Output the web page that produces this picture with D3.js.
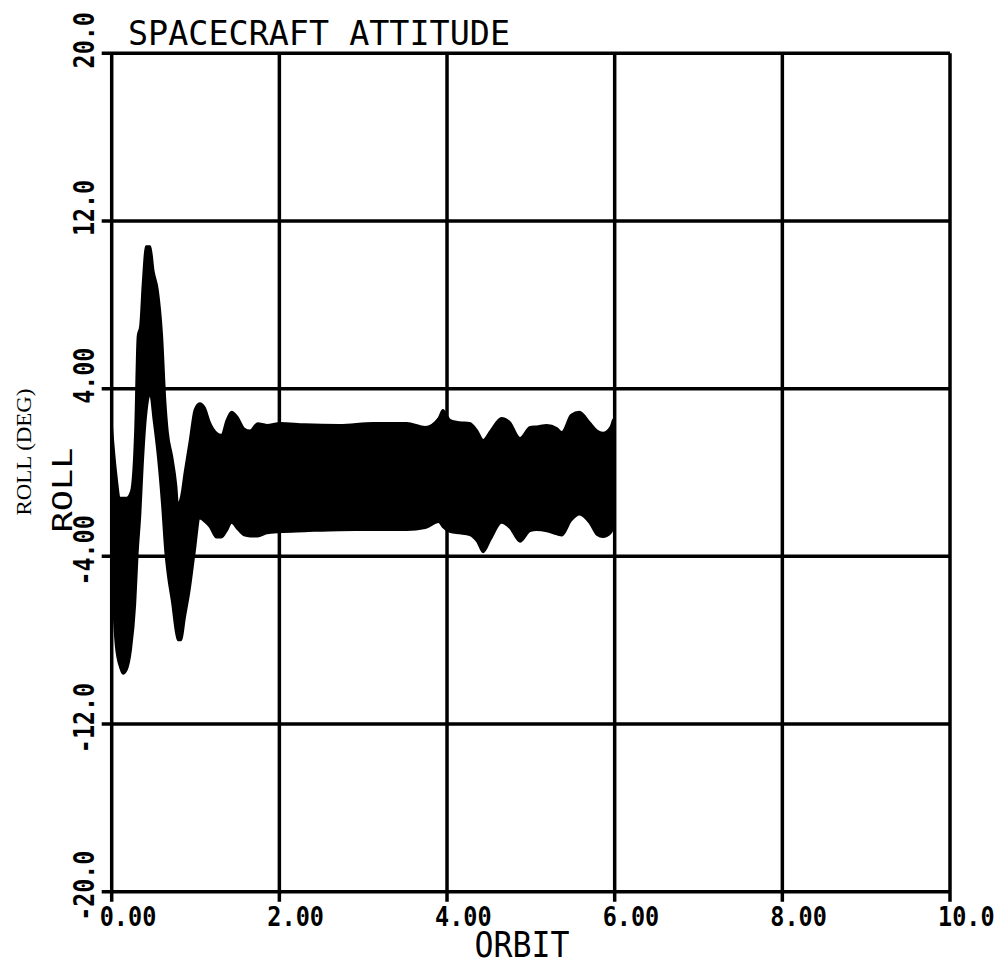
<!DOCTYPE html>
<html>
<head>
<meta charset="utf-8">
<script src="https://cdn.jsdelivr.net/npm/d3@7"></script>
<style>
  body { margin: 0; background: #fff; }
  .hershey { font-family: 'DejaVu Sans Mono', monospace; fill: #000; }
  .bold { font-weight: bold; }
  .serif { font-family: 'Liberation Serif', 'DejaVu Serif', serif; fill: #000; }
</style>
</head>
<body>
<div id="chart"></div>
<script>
// roll attitude: envelope of the fast oscillation (orbit, deg)
var ORBIT = [0.00, 0.05, 0.10, 0.135, 0.18, 0.23, 0.28, 0.31, 0.34, 0.37, 0.41, 0.46, 0.50, 0.55, 0.60, 0.64,
    0.67, 0.72, 0.77, 0.79, 0.83, 0.87, 0.93, 0.99, 1.05, 1.11, 1.17, 1.25, 1.31, 1.37, 1.43, 1.50,
    1.58, 1.65, 1.74, 1.85, 2.01, 2.30, 2.72, 3.12, 3.52, 3.74, 3.90, 3.95, 4.04, 4.15, 4.27, 4.36,
    4.43, 4.52, 4.65, 4.75, 4.87, 4.99, 5.07, 5.19, 5.31, 5.37, 5.48, 5.58, 5.70, 5.79, 5.86, 5.95,
    5.98, 6.00];
var ROLL_MAX = [2.35, 0.1, -1.2, -1.2, -1.2, -0.9, 2.0, 6.5, 7.0, 9.0, 10.8, 10.8, 9.6, 8.7, 6.6, 3.4,
    1.9, 0.8, -0.6, -1.5, -1.1, 0.0, 1.5, 3.0, 3.3, 3.1, 2.4, 1.9, 1.8, 2.5, 2.9, 2.65,
    2.1, 2.0, 2.35, 2.27, 2.36, 2.3, 2.27, 2.36, 2.36, 2.17, 2.6, 2.98, 2.5, 2.4, 2.36, 2.0,
    1.55, 2.0, 2.6, 2.4, 1.65, 2.17, 2.2, 2.27, 2.12, 1.93, 2.75, 2.9, 2.4, 2.0, 1.9, 2.17,
    2.5, 2.6];
var ROLL_MIN = [-4.9, -8.3, -9.3, -9.6, -9.4, -8.45, -6.3, -3.8, -2.1, 0.35, 2.7, 3.7, 2.5, 0.8, -1.5, -3.8,
    -4.9, -6.2, -7.7, -8.0, -8.0, -7.0, -5.6, -3.8, -2.2, -2.35, -2.6, -3.1, -3.1, -2.8, -2.4, -2.7,
    -3.0, -3.05, -3.05, -2.9, -2.84, -2.8, -2.75, -2.74, -2.74, -2.65, -2.36, -2.6, -2.84, -2.9, -2.98, -3.3,
    -3.8, -3.2, -2.4, -2.65, -3.3, -2.8, -2.74, -2.8, -2.95, -3.0, -2.3, -2.0, -2.4, -2.98, -3.08, -2.9,
    -2.7, -2.5];

var X_TICKS = [0, 2, 4, 6, 8, 10];
var X_TICK_LABELS = ['0.00', '2.00', '4.00', '6.00', '8.00', '10.0'];
var Y_TICKS = [-20, -12, -4, 4, 12, 20];
var Y_TICK_LABELS = ['-20.0', '-12.0', '-4.00', '4.00', '12.0', '20.0'];

var TITLE = 'SPACECRAFT ATTITUDE';
var X_LABEL = 'ORBIT';
var Y_LABEL = 'ROLL';
var Y_LABEL_2 = 'ROLL (DEG)';

function drawChart() {
    var width = 1005;
    var height = 964;
    var left = 111.7, right = 950, top = 53.3, bottom = 891.7;
    var tick = 10;

    var svg = d3.select('#chart')
        .append('svg')
        .attr('width', width)
        .attr('height', height)

    var x = d3.scaleLinear().domain([0, 10]).range([left, right]);
    var y = d3.scaleLinear().domain([-20, 20]).range([bottom, top]);

    var data = d3.range(ORBIT.length).map((i) => ({o: ORBIT[i], hi: ROLL_MAX[i], lo: ROLL_MIN[i]}));

    // the oscillation is so dense it plots as a solid band
    var band = d3.area()
        .curve(d3.curveMonotoneX)
        .x((d) => x(d.o))
        .y0((d) => y(d.lo))
        .y1((d) => y(d.hi));

    svg.append('path')
        .datum(data)
        .attr('d', band)
        .style('fill', '#000')
        .style('stroke', '#000')
        .style('stroke-width', 2)
        .style('stroke-linejoin', 'round');

    // grid
    svg.selectAll('.vgrid')
        .data(X_TICKS)
        .enter()
        .append('line')
        .attr('class', 'vgrid')
        .attr('x1', (d) => x(d))
        .attr('x2', (d) => x(d))
        .attr('y1', top)
        .attr('y2', bottom + tick)
        .style('stroke', '#000')
        .style('stroke-width', 3.5);

    svg.selectAll('.hgrid')
        .data(Y_TICKS)
        .enter()
        .append('line')
        .attr('class', 'hgrid')
        .attr('x1', left - tick)
        .attr('x2', right)
        .attr('y1', (d) => y(d))
        .attr('y2', (d) => y(d))
        .style('stroke', '#000')
        .style('stroke-width', 3.5);

    // tick labels: narrow monospace, stretched tall like the plotter font
    svg.selectAll('.xlab')
        .data(X_TICKS)
        .enter()
        .append('text')
        .attr('class', 'hershey bold')
        .attr('transform', (d) => 'translate(' + (x(d) - 12) + ',' + (bottom + 34) + ') scale(1,1.15)')
        .attr('font-size', 23.5)
        .text((d, i) => X_TICK_LABELS[i]);

    svg.selectAll('.ylab')
        .data(Y_TICKS)
        .enter()
        .append('text')
        .attr('class', 'hershey bold')
        .attr('transform', (d) => 'translate(' + (left - 18) + ',' + (y(d) - 41) + ') rotate(-90) scale(1,1.25)')
        .attr('text-anchor', 'end')
        .attr('font-size', 23.3)
        .text((d, i) => Y_TICK_LABELS[i]);

    // titles
    svg.append('text')
        .attr('class', 'hershey')
        .attr('x', 128)
        .attr('y', 45)
        .attr('font-size', 33)
        .attr('textLength', 382)
        .attr('lengthAdjust', 'spacingAndGlyphs')
        .text(TITLE);

    svg.append('text')
        .attr('class', 'hershey')
        .attr('x', 522)
        .attr('y', 957)
        .attr('text-anchor', 'middle')
        .attr('font-size', 36)
        .attr('textLength', 95)
        .attr('lengthAdjust', 'spacingAndGlyphs')
        .text(X_LABEL);

    svg.append('text')
        .attr('class', 'hershey')
        .attr('transform', 'translate(72,490) rotate(-90)')
        .attr('text-anchor', 'middle')
        .attr('font-size', 27)
        .attr('textLength', 85)
        .attr('lengthAdjust', 'spacingAndGlyphs')
        .text(Y_LABEL);

    svg.append('text')
        .attr('class', 'serif')
        .attr('transform', 'translate(31,452) rotate(-90)')
        .attr('text-anchor', 'middle')
        .attr('font-size', 21)
        .attr('textLength', 127)
        .attr('lengthAdjust', 'spacingAndGlyphs')
        .text(Y_LABEL_2);
}

drawChart();
</script>
</body>
</html>
